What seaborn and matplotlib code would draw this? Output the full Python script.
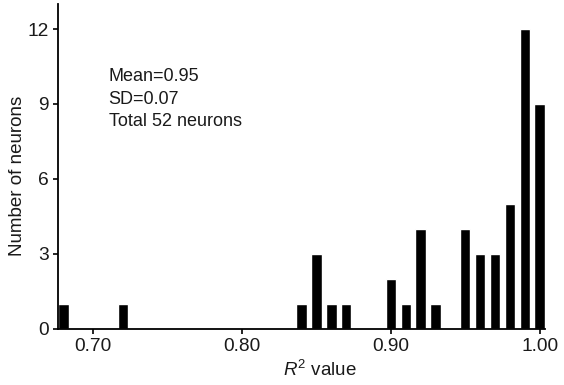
import matplotlib
matplotlib.use("Agg")
import matplotlib.pyplot as plt
import seaborn as sns
import pandas as pd

r2_values = [0.68, 0.72, 0.84, 0.85, 0.86, 0.87, 0.90, 0.91, 0.92, 0.93,
             0.95, 0.96, 0.97, 0.98, 0.99, 1.00]
neuron_counts = [1, 1, 1, 3, 1, 1, 2, 1, 4, 1, 4, 3, 3, 5, 12, 9]
x_ticks = [0.70, 0.80, 0.90, 1.00]
y_ticks = [0, 3, 6, 9, 12]
stats_text = "Mean=0.95\nSD=0.07\nTotal 52 neurons"

sns.set_style("ticks")
plt.rcParams["font.family"] = ["Liberation Sans", "DejaVu Sans"]
plt.rcParams["mathtext.fontset"] = "custom"
plt.rcParams["mathtext.rm"] = "Liberation Sans"
plt.rcParams["mathtext.it"] = "Liberation Sans:italic"

df = pd.DataFrame({"r2": r2_values, "count": neuron_counts})

fig = plt.figure(figsize=(5.64, 3.85), dpi=100)
ax = fig.add_axes([0.1028, 0.1455, 0.8635, 0.8441])
sns.barplot(data=df, x="r2", y="count", native_scale=True, color="black",
            width=0.7, saturation=1, ax=ax)

ax.set_xlim(0.6763, 1.0036)
ax.set_ylim(0, 13)
ax.set_xticks(x_ticks)
ax.set_xticklabels([f"{t:.2f}" for t in x_ticks])
ax.set_yticks(y_ticks)
ax.tick_params(axis="both", labelsize=13.8, length=3.8, width=1.2, color="black",
               labelcolor="#1a1a1a", pad=3)
for s in ["top", "right"]:
    ax.spines[s].set_visible(False)
for s in ["left", "bottom"]:
    ax.spines[s].set_linewidth(1.3)
    ax.spines[s].set_color("black")

ax.set_xlabel(r"$R^2$ value", fontsize=13.5, color="#1a1a1a")
ax.xaxis.set_label_coords(0.538, -0.095)
ax.set_ylabel("Number of neurons", fontsize=13.5, color="#1a1a1a")
ax.yaxis.set_label_coords(-0.066, 0.471)

ax.text(0.104, 0.804, stats_text, transform=ax.transAxes, fontsize=13,
        color="#1a1a1a", va="top", ha="left", linespacing=1.45)

fig.savefig("out.png", dpi=100)
